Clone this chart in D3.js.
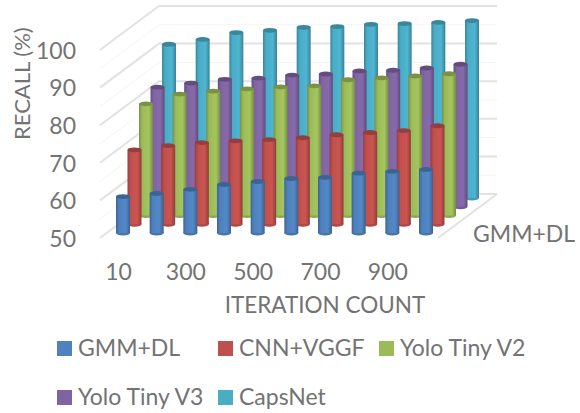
<!DOCTYPE html>
<html>
<head>
<meta charset="utf-8">
<script src="https://cdn.jsdelivr.net/npm/d3@7"></script>
<style>
  html, body { margin: 0; padding: 0; background: #fff; }
  text { font-family: Lato, sans-serif; fill: #737373; }
</style>
</head>
<body>
<div id="chart"></div>
<script>
const categories = [10, 200, 300, 400, 500, 600, 700, 800, 900, 1000];
const shownLabels = [10, 300, 500, 700, 900];
const seriesNames = ["GMM+DL", "CNN+VGGF", "Yolo Tiny V2", "Yolo Tiny V3", "CapsNet"];
const seriesColors = ["#4f81bd", "#c0504d", "#9bbb59", "#8064a2", "#4bacc6"];
const valueTicks = [50, 60, 70, 80, 90, 100];
const minorTicks = [55, 65, 75, 85, 95];

const gmmDl = [59.7, 60.5, 61.6, 62.9, 63.7, 64.5, 64.8, 65.9, 66.4, 66.9];
const cnnVggf = [69.8, 70.9, 71.7, 72.2, 72.5, 73, 73.8, 74.4, 74.9, 76.2];
const yoloV2 = [79.7, 82.3, 83.1, 83.7, 84.2, 84.5, 86.1, 86.6, 87.1, 87.7];
const yoloV3 = [81.8, 82.9, 83.9, 84.2, 85, 85.3, 86.1, 86.3, 86.9, 87.9];
const capsNet = [90.9, 92.2, 94, 94.6, 95.4, 95.6, 96.2, 96.4, 96.7, 97.2];
const seriesValues = [gmmDl, cnnVggf, yoloV2, yoloV3, capsNet];

/**
 * Basic Settings
 */
const canvasWidth = 580;
const canvasHeight = 413;
const barWidth = 14;
const capRadius = 2.4;

const svg = d3.select("#chart")
  .append("svg")
  .attr("width", canvasWidth)
  .attr("height", canvasHeight)
  .style("display", "block");

const defs = svg.append("defs");

defs.append("filter")
  .attr("id", "soft")
  .append("feGaussianBlur")
  .attr("stdDeviation", 0.5);

// Cylinder shading, one gradient per series
seriesColors.forEach(function(color, s) {
  const grad = defs.append("linearGradient").attr("id", "cyl" + s);
  grad.append("stop").attr("offset", "0%").attr("stop-color", d3.rgb(color).darker(0.7));
  grad.append("stop").attr("offset", "22%").attr("stop-color", color);
  grad.append("stop").attr("offset", "70%").attr("stop-color", d3.rgb(color).brighter(0.15));
  grad.append("stop").attr("offset", "100%").attr("stop-color", d3.rgb(color).darker(0.8));
});

// Scales
const xScale = d3.scalePoint()
  .domain(categories)
  .range([100, 403]);

const yScale = d3.scaleLinear()
  .domain([50, 100])
  .range([238, 50]);

// Depth of the chart box and of each series row inside it
const wallDx = 59;
const wallDy = -44;
const rowDx = d3.scaleLinear().domain([0, 4]).range([16, 62]);
const rowDy = d3.scaleLinear().domain([0, 4]).range([-5, -40]);

// Walls and floor
const grid = svg.append("g")
  .attr("fill", "none")
  .attr("filter", "url(#soft)");

function drawGrid(ticks, width, color) {
  ticks.forEach(function(v) {
    const y = yScale(v);
    grid.append("path")
      .attr("stroke", color)
      .attr("stroke-width", width)
      .attr("d", d3.line()([
        [100, y],
        [100 + wallDx, y + wallDy],
        [497, y + wallDy]
      ]));
  });
}

drawGrid(minorTicks, 1, "#f4f4f4");
drawGrid(valueTicks, 2, "#e2e2e2");

grid.append("path")
  .attr("stroke", "#e2e2e2")
  .attr("stroke-width", 2)
  .attr("d", d3.line()([
    [497, yScale(50) + wallDy],
    [497 - wallDx, yScale(50)]
  ]));

// Columns, back row first
const bars = svg.append("g").attr("filter", "url(#soft)");

d3.range(seriesNames.length - 1, -1, -1).forEach(function(s) {
  const row = bars.append("g")
    .attr("transform", "translate(" + rowDx(s) + "," + rowDy(s) + ")");

  const column = row.selectAll("g")
    .data(seriesValues[s])
    .join("g")
    .attr("transform", function(d, i) {
      return "translate(" + xScale(categories[i]) + ",0)";
    });

  column.append("ellipse")
    .attr("cx", barWidth / 2)
    .attr("cy", yScale(50))
    .attr("rx", barWidth / 2)
    .attr("ry", capRadius)
    .attr("fill", d3.rgb(seriesColors[s]).darker(0.3));

  column.append("rect")
    .attr("x", 0)
    .attr("width", barWidth)
    .attr("y", function(d) { return yScale(d); })
    .attr("height", function(d) { return yScale(50) - yScale(d); })
    .attr("fill", "url(#cyl" + s + ")");

  column.append("ellipse")
    .attr("cx", barWidth / 2)
    .attr("cy", function(d) { return yScale(d); })
    .attr("rx", barWidth / 2)
    .attr("ry", capRadius)
    .attr("fill", d3.rgb(seriesColors[s]).darker(0.7));
});

// Value axis
const yAxis = svg.append("g")
  .attr("transform", "translate(76,1)")
  .call(d3.axisLeft(yScale).tickValues(valueTicks).tickSize(0).tickPadding(0));

// Category axis
const xAxis = svg.append("g")
  .attr("transform", "translate(18,264)")
  .call(d3.axisBottom(xScale).tickValues(shownLabels).tickSize(0).tickPadding(0));

yAxis.select(".domain").remove();
xAxis.select(".domain").remove();
svg.selectAll(".tick text")
  .attr("font-size", 23)
  .style("font-family", "Lato, sans-serif");

// Titles
svg.append("text")
  .attr("x", 325)
  .attr("y", 313)
  .attr("text-anchor", "middle")
  .attr("font-size", 22.5)
  .text("ITERATION COUNT");

svg.append("text")
  .attr("transform", "translate(30,140) rotate(-90)")
  .attr("font-size", 22)
  .text("RECALL (%)");

svg.append("text")
  .attr("x", 473)
  .attr("y", 242)
  .attr("font-size", 23)
  .text(seriesNames[0]);

// Legend
const legendX = [57, 218, 379, 57, 218];
const legendY = [341, 341, 341, 390, 390];

const legend = svg.append("g")
  .selectAll("g")
  .data(seriesNames)
  .join("g")
  .attr("transform", function(d, i) {
    return "translate(" + legendX[i] + "," + legendY[i] + ")";
  });

legend.append("rect")
  .attr("width", 15)
  .attr("height", 15)
  .attr("fill", function(d, i) { return seriesColors[i]; });

legend.append("text")
  .attr("x", 21)
  .attr("y", 15)
  .attr("font-size", 23)
  .text(function(d) { return d; });
</script>
</body>
</html>
